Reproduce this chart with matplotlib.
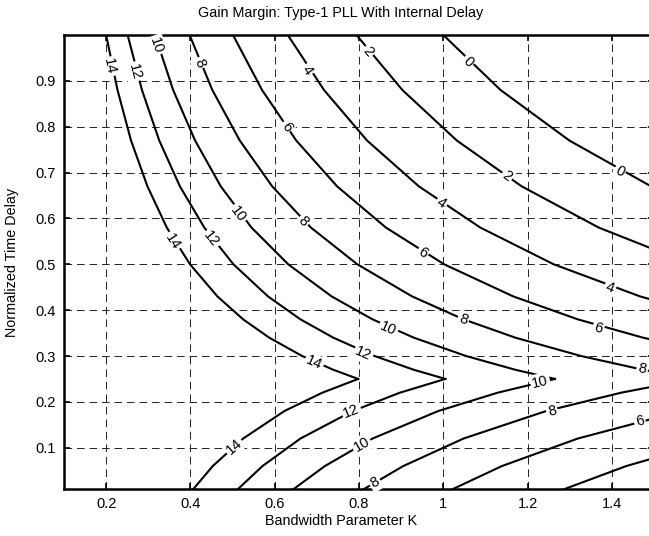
import numpy as np
import matplotlib.pyplot as plt

plt.rcParams['font.family'] = ['Liberation Sans', 'DejaVu Sans']
plt.rcParams['lines.scale_dashes'] = False

# contour levels (dB) and the curves
levels = [14, 12, 10, 8, 6, 4, 2, 0]
tau_lower = [0.01, 0.06, 0.12, 0.18, 0.22, 0.25]
tau_upper = [0.25, 0.27, 0.30, 0.34, 0.38, 0.43, 0.50, 0.58, 0.67, 0.77, 0.88, 1.00]
k_lower = [
    [0.407, 0.453, 0.525, 0.623, 0.713, 0.798],
    [0.513, 0.571, 0.661, 0.785, 0.897, 1.005],
    [0.645, 0.719, 0.832, 0.988, 1.129, 1.265],
    [0.812, 0.905, 1.048, 1.244, 1.422, 1.592],
    [1.023, 1.139, 1.319, 1.566, 1.790, 2.005],
    [1.288, 1.434, 1.661, 1.972, 2.254, 2.524],
    None,
    None,
]
k_upper = [
    [0.798, 0.739, 0.665, 0.587, 0.525, 0.464, 0.399, 0.344, 0.298, 0.259, 0.227, 0.200],
    [1.005, 0.930, 0.837, 0.739, 0.661, 0.584, 0.502, 0.433, 0.375, 0.326, 0.285, 0.251],
    [1.265, 1.171, 1.054, 0.930, 0.832, 0.735, 0.632, 0.545, 0.472, 0.411, 0.359, 0.316],
    [1.592, 1.474, 1.327, 1.171, 1.048, 0.926, 0.796, 0.686, 0.594, 0.517, 0.452, 0.398],
    [2.005, 1.856, 1.671, 1.474, 1.319, 1.166, 1.002, 0.864, 0.748, 0.651, 0.570, 0.501],
    [2.524, 2.337, 2.103, 1.856, 1.661, 1.467, 1.262, 1.088, 0.942, 0.819, 0.717, 0.631],
    [3.177, 2.942, 2.648, 2.336, 2.090, 1.847, 1.589, 1.369, 1.186, 1.032, 0.903, 0.794],
    [4.000, 3.704, 3.333, 2.941, 2.632, 2.326, 2.000, 1.724, 1.493, 1.299, 1.136, 1.000],
]

# inline labels: level, K, tau, branch
lab_level = [14, 14, 14, 14, 12, 12, 12, 12, 10, 10, 10, 10, 10,
             8, 8, 8, 8, 8, 8, 6, 6, 6, 6, 4, 4, 4, 2, 2, 0, 0]
lab_k = [0.208, 0.358, 0.693, 0.503, 0.267, 0.450, 0.810, 0.782,
         0.319, 0.513, 0.869, 1.230, 0.806,
         0.422, 0.667, 1.047, 1.472, 0.838, 1.258,
         0.628, 0.951, 1.368, 1.466, 0.678, 0.996, 1.396,
         0.822, 1.151, 1.059, 1.418]
lab_tau = [0.931, 0.550, 0.285, 0.103, 0.920, 0.555, 0.305, 0.180,
           0.978, 0.610, 0.359, 0.243, 0.107,
           0.939, 0.593, 0.379, 0.272, 0.024, 0.180,
           0.800, 0.525, 0.361, 0.158, 0.924, 0.634, 0.450,
           0.964, 0.692, 0.942, 0.702]
lab_branch = ['u', 'u', 'u', 'l', 'u', 'u', 'u', 'l',
              'u', 'u', 'u', 'l', 'l',
              'u', 'u', 'u', 'u', 'l', 'l',
              'u', 'u', 'u', 'l', 'u', 'u', 'u',
              'u', 'u', 'u', 'u']

xticks = [0.2, 0.4, 0.6, 0.8, 1.0, 1.2, 1.4]
xticklabels = ['0.2', '0.4', '0.6', '0.8', '1', '1.2', '1.4']
yticks = [0.1, 0.2, 0.3, 0.4, 0.5, 0.6, 0.7, 0.8, 0.9]

W, H = 649, 536
fig = plt.figure(figsize=(W / 100, H / 100), dpi=100)
ax = fig.add_axes([64 / W, 1 - 489 / H, 590 / W, 454 / H])
ax.set_xlim(0.1, 1.5)
ax.set_ylim(0.01, 1.0)

for i, lv in enumerate(levels):
    ax.plot(k_upper[i], tau_upper, color='black', lw=1.5, zorder=3)
    if k_lower[i] is not None:
        ax.plot(k_lower[i], tau_lower, color='black', lw=1.5, zorder=3)


def label_angle(ks, ts, k0, t0):
    pts = ax.transData.transform(np.column_stack([ks, ts]))
    p0 = ax.transData.transform((k0, t0))
    mids = (pts[1:] + pts[:-1]) / 2
    j = np.argmin(np.hypot(*(mids - p0).T))
    d = pts[j + 1] - pts[j]
    a = np.degrees(np.arctan2(d[1], d[0]))
    if a > 90:
        a -= 180
    elif a <= -90:
        a += 180
    return a


for lv, k0, t0, br in zip(lab_level, lab_k, lab_tau, lab_branch):
    i = levels.index(lv)
    if br == 'u':
        ang = label_angle(k_upper[i], tau_upper, k0, t0)
    else:
        ang = label_angle(k_lower[i], tau_lower, k0, t0)
    ax.text(k0, t0, str(lv), rotation=ang, rotation_mode='anchor',
            ha='center', va='center', fontsize=10.5, zorder=4,
            bbox=dict(boxstyle='square,pad=0.12', fc='white', ec='none'))

ax.set_xticks(xticks)
ax.set_xticklabels(xticklabels)
ax.set_yticks(yticks)
ax.grid(True, color='#222222', lw=0.7, linestyle=(0, (5.5, 3.5)))
ax.set_axisbelow(True)
ax.tick_params(direction='in', length=4, width=1.2, top=True, right=True,
               labelsize=10.5, pad=6)
for s in ax.spines.values():
    s.set_linewidth(1.8)

fig.text(341 / W, 1 - 13 / H, 'Gain Margin: Type-1 PLL With Internal Delay',
         ha='center', va='center', fontsize=10.4)
fig.text(341 / W, 1 - 521 / H, 'Bandwidth Parameter K',
         ha='center', va='center', fontsize=10.4)
fig.text(12 / W, 1 - 262 / H, 'Normalized Time Delay', rotation=90,
         ha='center', va='center', fontsize=10.4)

fig.savefig('out.png', dpi=100)
